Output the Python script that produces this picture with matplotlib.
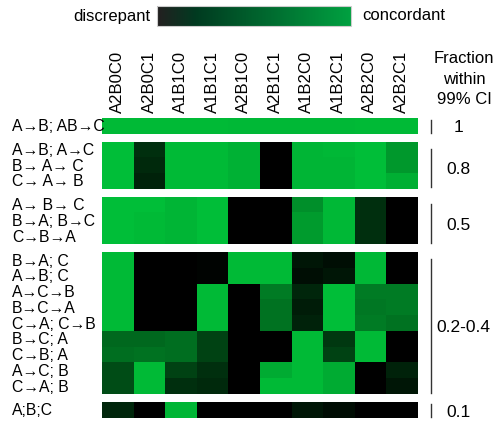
import numpy as np
import matplotlib
matplotlib.use("Agg")
import matplotlib.pyplot as plt
from matplotlib.colors import LinearSegmentedColormap
from matplotlib import transforms
import matplotlib.cm as cm

plt.rcParams['font.family'] = ['Liberation Sans', 'DejaVu Sans']

columns = ['A2B0C0', 'A2B0C1', 'A1B1C0', 'A1B1C1', 'A2B1C0',
           'A2B1C1', 'A1B2C0', 'A1B2C1', 'A2B2C0', 'A2B2C1']

# concordance per block (0 = discrepant, 1 = concordant)
labels_1 = ['A→B; AB→C']
block_1 = [[0.98, 0.98, 0.98, 0.98, 0.97, 0.97, 0.97, 0.97, 0.98, 0.98]]

labels_2 = ['A→B; A→C', 'B→ A→ C', 'C→ A→ B']
block_2 = [[1.00, 0.25, 0.98, 0.98, 0.93, 0.00, 0.95, 0.97, 1.00, 0.80],
           [1.00, 0.22, 0.98, 0.98, 0.93, 0.00, 0.95, 0.95, 1.00, 0.80],
           [1.00, 0.18, 0.98, 0.98, 0.93, 0.00, 0.95, 0.95, 1.00, 0.92]]

labels_3 = ['A→ B→ C', 'B→A; B→C', 'C→B→A']
block_3 = [[1.00, 1.00, 0.95, 1.00, 0.00, 0.00, 0.75, 0.97, 0.25, 0.00],
           [1.00, 0.98, 0.95, 1.00, 0.00, 0.00, 0.82, 0.97, 0.25, 0.00],
           [1.00, 0.98, 0.95, 1.00, 0.00, 0.00, 0.82, 0.97, 0.25, 0.00]]

labels_4 = ['B→A; C', 'A→B; C', 'A→C→B', 'B→C→A', 'C→A; C→B',
            'B→C; A', 'C→B; A', 'A→C; B', 'C→A; B']
block_4 = [[0.98, 0.00, 0.00, 0.02, 0.98, 0.98, 0.12, 0.08, 0.97, 0.00],
           [0.98, 0.00, 0.00, 0.02, 0.98, 0.98, 0.08, 0.12, 0.97, 0.00],
           [0.98, 0.00, 0.00, 0.98, 0.00, 0.65, 0.20, 1.00, 0.65, 0.65],
           [0.98, 0.00, 0.00, 0.98, 0.00, 0.60, 0.15, 1.00, 0.63, 0.65],
           [0.98, 0.00, 0.00, 0.98, 0.00, 0.60, 0.18, 1.00, 0.65, 0.60],
           [0.55, 0.55, 0.58, 0.35, 0.00, 0.00, 0.98, 0.30, 0.98, 0.00],
           [0.58, 0.60, 0.58, 0.35, 0.00, 0.00, 0.98, 0.35, 0.98, 0.00],
           [0.40, 0.98, 0.35, 0.25, 0.00, 0.90, 0.98, 0.90, 0.00, 0.18],
           [0.40, 0.98, 0.25, 0.22, 0.00, 0.98, 0.98, 0.90, 0.00, 0.12]]

labels_5 = ['A;B;C']
block_5 = [[0.20, 0.00, 0.95, 0.00, 0.00, 0.00, 0.12, 0.07, 0.00, 0.00]]

fractions = ['1', '0.8', '0.5', '0.2-0.4', '0.1']

blocks = [block_1, block_2, block_3, block_4, block_5]
row_labels = [labels_1, labels_2, labels_3, labels_4, labels_5]

cmap = LinearSegmentedColormap.from_list('conc', ['#000000', '#00BE38'])
bar_cmap = LinearSegmentedColormap.from_list(
    'bar', [(0, '#231F20'), (0.2, '#003A20'), (1, '#00A040')])

fig = plt.figure(figsize=(4.98, 4.24), dpi=100)
nrows = [len(b) for b in blocks]
gs = fig.add_gridspec(len(blocks), 1, height_ratios=nrows, hspace=0.149,
                      left=102 / 498, right=417 / 498,
                      top=1 - 118 / 424, bottom=1 - 418 / 424)

for i, (data, labs, frac) in enumerate(zip(blocks, row_labels, fractions)):
    ax = fig.add_subplot(gs[i])
    arr = np.array(data)
    ax.imshow(arr, cmap=cmap, vmin=0, vmax=1, aspect='auto',
              interpolation='nearest')
    ax.set_yticks([])
    for s in ax.spines.values():
        s.set_visible(False)
    if i == 0:
        ax.xaxis.tick_top()
        ax.set_xticks(range(len(columns)))
        ax.set_xticklabels(columns, rotation=90, fontsize=12)
        ax.tick_params(axis='x', length=0, pad=3.5)
    else:
        ax.set_xticks([])

    tr = transforms.blended_transform_factory(fig.transFigure, ax.transData)
    for r, lab in enumerate(labs):
        ax.text(12 / 498, r + 0.05, lab, transform=tr, ha='left',
                va='center', fontsize=11.3)

    n = len(labs)
    if n > 1:
        y0, y1 = -0.5 + 0.45, n - 0.6
    else:
        y0, y1 = -0.4, 0.45
    ax.plot([431 / 498, 431 / 498], [y0, y1], transform=tr, color='#333333',
            lw=1, clip_on=False)
    ymid = (y0 + y1) / 2 + 0.1
    if len(frac) > 4:
        ax.text(436 / 498, ymid, frac, transform=tr, ha='left',
                va='center', fontsize=12.5)
    else:
        ax.text(458 / 498, ymid, frac, transform=tr, ha='center',
                va='center', fontsize=12.5)

fig.text(464 / 498, 1 - 79 / 424, 'Fraction\nwithin\n99% CI', ha='center',
         va='center', fontsize=12, linespacing=1.45)

# colour bar on top
cax = fig.add_axes([157 / 498, 1 - 26 / 424, 194 / 498, 20 / 424])
sm = cm.ScalarMappable(cmap=bar_cmap, norm=plt.Normalize(0, 1))
cb = fig.colorbar(sm, cax=cax, orientation='horizontal')
cb.set_ticks([])
cb.outline.set_edgecolor('#cccccc')
cb.outline.set_linewidth(0.8)
fig.text(150 / 498, 1 - 16 / 424, 'discrepant', ha='right', va='center',
         fontsize=12)
fig.text(362 / 498, 1 - 16 / 424, 'concordant', ha='left', va='center',
         fontsize=12)

fig.savefig('out.png', dpi=100)
